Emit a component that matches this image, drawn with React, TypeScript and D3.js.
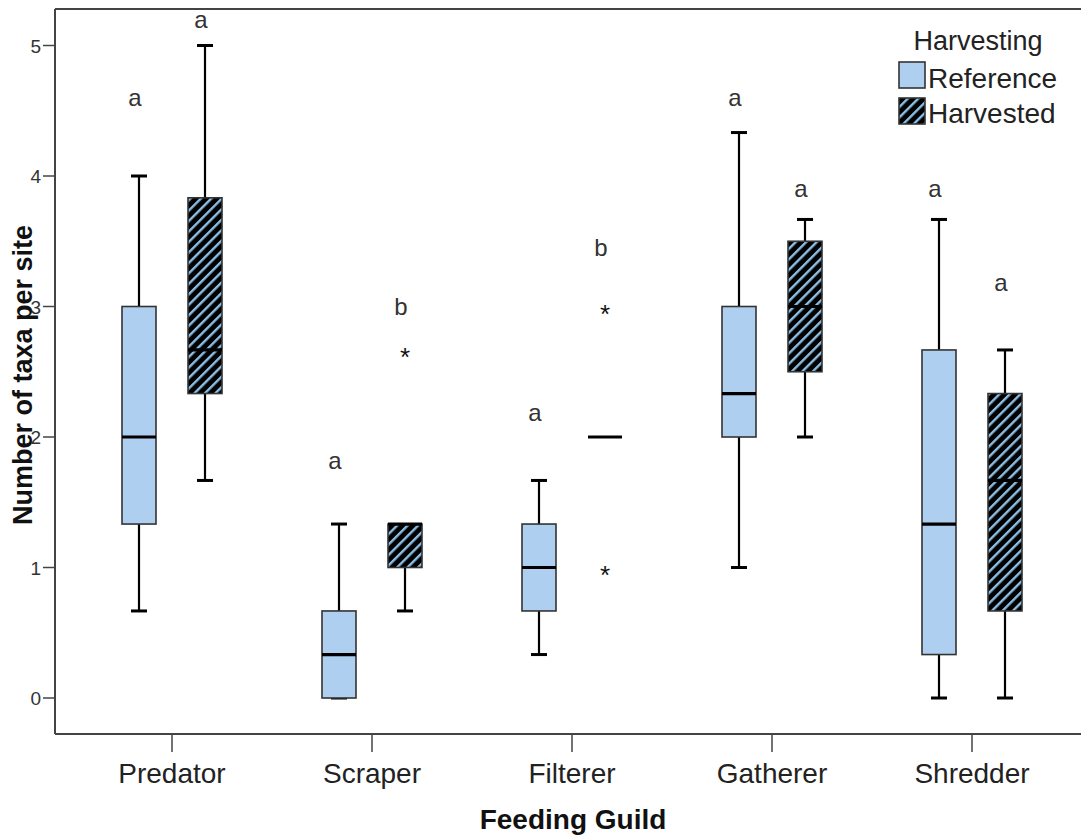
import React from "react";
import * as d3 from "d3";

const categories = ["Predator", "Scraper", "Filterer", "Gatherer", "Shredder"];
const groups = ["Reference", "Harvested"];

const refLow = [0.667, 0, 0.333, 1.0, 0];
const refQ1 = [1.333, 0, 0.667, 2.0, 0.333];
const refMedian = [2.0, 0.333, 1.0, 2.333, 1.333];
const refQ3 = [3.0, 0.667, 1.333, 3.0, 2.667];
const refHigh = [4.0, 1.333, 1.667, 4.333, 3.667];

const harvLow = [1.667, 0.667, 2.0, 2.0, 0];
const harvQ1 = [2.333, 1.0, 2.0, 2.5, 0.667];
const harvMedian = [2.667, 1.333, 2.0, 3.0, 1.667];
const harvQ3 = [3.833, 1.333, 2.0, 3.5, 2.333];
const harvHigh = [5.0, 1.333, 2.0, 3.667, 2.667];

const outlierCats = ["Scraper", "Filterer", "Filterer"];
const outlierGroups = ["Harvested", "Harvested", "Harvested"];
const outlierValues = [2.667, 3.0, 1.0];

const refLetters = ["a", "a", "a", "a", "a"];
const refLetterY = [4.6, 1.82, 2.19, 4.6, 3.9];
const harvLetters = ["a", "b", "b", "a", "a"];
const harvLetterY = [5.2, 3.0, 3.45, 3.9, 3.18];

const yTicks = [0, 1, 2, 3, 4, 5];

const FONT = "'Liberation Sans', Arial, sans-serif";
const BOX_FILL = "#aecff0";
const HATCH_BLUE = "#8cbfe6";

export default function App() {
  const W = 1081;
  const H = 837;
  const frameLeft = 55;
  const frameTop = 9;
  const frameBottom = 734;

  const x = d3.scaleBand<string>().domain(categories).range([72, 1072]).padding(0);
  const xg = d3.scaleBand<string>().domain(groups).range([-66, 66]).padding(0);
  const y = d3.scaleLinear().domain([0, 5]).range([698, 45.5]);

  const boxW = 34;
  const capW = 16;

  const series = [
    { g: "Reference", low: refLow, q1: refQ1, med: refMedian, q3: refQ3, high: refHigh, letters: refLetters, ly: refLetterY },
    { g: "Harvested", low: harvLow, q1: harvQ1, med: harvMedian, q3: harvQ3, high: harvHigh, letters: harvLetters, ly: harvLetterY },
  ];

  const cx = (c: string, g: string) => (x(c) as number) + x.bandwidth() / 2 + (xg(g) as number) + xg.bandwidth() / 2;

  return (
    <svg width={W} height={H} style={{ position: "absolute", left: 0, top: 0, background: "#fff" }}>
      <defs>
        <pattern id="hatch" patternUnits="userSpaceOnUse" width="7.4" height="7.4" patternTransform="rotate(45)">
          <rect width="7.4" height="7.4" fill="#000" />
          <rect x="0" y="0" width="2.4" height="7.4" fill={HATCH_BLUE} />
        </pattern>
      </defs>
      <rect x={0} y={0} width={W} height={H} fill="#fff" />

      {/* frame */}
      <line x1={frameLeft} x2={W} y1={frameTop} y2={frameTop} stroke="#444" strokeWidth={2} />
      <line x1={frameLeft} x2={W} y1={frameBottom} y2={frameBottom} stroke="#444" strokeWidth={2} />
      <line x1={frameLeft} x2={frameLeft} y1={frameTop} y2={frameBottom} stroke="#444" strokeWidth={2} />

      {/* y ticks */}
      {yTicks.map((t) => (
        <g key={t}>
          <line x1={frameLeft - 12} x2={frameLeft} y1={y(t)} y2={y(t)} stroke="#444" strokeWidth={1.5} />
          <text x={frameLeft - 14} y={y(t) + 7} textAnchor="end" fontSize={19} fontFamily={FONT} fill="#333">
            {t}
          </text>
        </g>
      ))}

      {/* x ticks */}
      {categories.map((c) => {
        const px = (x(c) as number) + x.bandwidth() / 2;
        return (
          <g key={c}>
            <line x1={px} x2={px} y1={frameBottom} y2={frameBottom + 18} stroke="#444" strokeWidth={1.5} />
            <text x={px} y={783} textAnchor="middle" fontSize={28} fontFamily={FONT} fill="#222">
              {c}
            </text>
          </g>
        );
      })}

      {/* boxes */}
      {series.map((s) =>
        categories.map((c, i) => {
          const px = cx(c, s.g);
          const fill = s.g === "Reference" ? BOX_FILL : "url(#hatch)";
          const hasBox = s.q3[i] > s.q1[i];
          return (
            <g key={s.g + c}>
              {s.high[i] > s.q3[i] && (
                <>
                  <line x1={px} x2={px} y1={y(s.q3[i])} y2={y(s.high[i])} stroke="#000" strokeWidth={2.2} />
                  <line x1={px - capW / 2} x2={px + capW / 2} y1={y(s.high[i])} y2={y(s.high[i])} stroke="#000" strokeWidth={3} />
                </>
              )}
              {s.q1[i] >= s.low[i] && (
                <>
                  <line x1={px} x2={px} y1={y(s.q1[i])} y2={y(s.low[i])} stroke="#000" strokeWidth={2.2} />
                  {s.q1[i] > s.low[i] || s.g === "Reference" ? (
                    <line x1={px - capW / 2} x2={px + capW / 2} y1={y(s.low[i])} y2={y(s.low[i])} stroke="#000" strokeWidth={3} />
                  ) : null}
                </>
              )}
              {hasBox && (
                <rect
                  x={px - boxW / 2}
                  y={y(s.q3[i])}
                  width={boxW}
                  height={y(s.q1[i]) - y(s.q3[i])}
                  fill={fill}
                  stroke="#333"
                  strokeWidth={1.6}
                />
              )}
              <line x1={px - boxW / 2} x2={px + boxW / 2} y1={y(s.med[i])} y2={y(s.med[i])} stroke="#000" strokeWidth={3.2} />
              <text x={px - 4} y={y(s.ly[i])} dy="0.35em" textAnchor="middle" fontSize={24} fontFamily={FONT} fill="#333">
                {s.letters[i]}
              </text>
            </g>
          );
        })
      )}

      {/* outliers */}
      {outlierValues.map((v, i) => (
        <text key={i} x={cx(outlierCats[i], outlierGroups[i])} y={y(v)} dy="0.62em" textAnchor="middle" fontSize={26} fontFamily={FONT} fill="#111">
          *
        </text>
      ))}

      {/* legend */}
      <text x={978} y={50} textAnchor="middle" fontSize={27} fontFamily={FONT} fill="#222">
        Harvesting
      </text>
      <rect x={899} y={62} width={26} height={26} fill={BOX_FILL} stroke="#333" strokeWidth={1.6} />
      <text x={928} y={88} fontSize={28} fontFamily={FONT} fill="#222">
        Reference
      </text>
      <rect x={899} y={98} width={26} height={26} fill="url(#hatch)" stroke="#333" strokeWidth={1.6} />
      <text x={928} y={123} fontSize={28} fontFamily={FONT} fill="#222">
        Harvested
      </text>

      {/* axis titles */}
      <text x={573} y={829} textAnchor="middle" fontSize={28} fontWeight="bold" fontFamily={FONT} fill="#111">
        Feeding Guild
      </text>
      <text
        transform="translate(32,375) rotate(-90)"
        textAnchor="middle"
        fontSize={27}
        fontWeight="bold"
        fontFamily={FONT}
        fill="#111"
      >
        Number of taxa per site
      </text>
    </svg>
  );
}
